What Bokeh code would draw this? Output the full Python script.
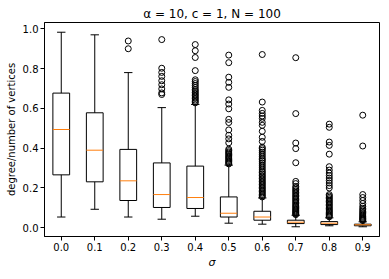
from bokeh.plotting import figure
from bokeh.models import ColumnDataSource, FactorRange, Range1d, FixedTicker, PrintfTickFormatter
from bokeh.transform import dodge
from bokeh.embed import file_html
from bokeh.resources import INLINE

# ---- data ----
sigma = ["0.0", "0.1", "0.2", "0.3", "0.4", "0.5", "0.6", "0.7", "0.8", "0.9"]
whislo = [0.054, 0.093, 0.054, 0.043, 0.058, 0.023, 0.018, 0.005, 0.010, 0.005]
q1 = [0.266, 0.231, 0.137, 0.102, 0.097, 0.054, 0.038, 0.021, 0.016, 0.010]
med = [0.494, 0.390, 0.236, 0.167, 0.152, 0.073, 0.054, 0.028, 0.023, 0.015]
q3 = [0.677, 0.578, 0.394, 0.326, 0.310, 0.155, 0.083, 0.038, 0.031, 0.018]
whishi = [0.983, 0.970, 0.780, 0.604, 0.620, 0.315, 0.150, 0.063, 0.050, 0.030]

fl_00 = []
fl_01 = []
fl_02 = [0.939, 0.900]
fl_03 = [0.946, 0.802, 0.781, 0.761, 0.739, 0.719, 0.698, 0.678, 0.670]
fl_04 = [0.921, 0.890, 0.856, 0.790, 0.744, 0.735, 0.725, 0.715, 0.705, 0.695,
         0.688, 0.680, 0.672, 0.665, 0.657, 0.650, 0.642, 0.635, 0.628]
fl_05 = [0.868, 0.830, 0.757, 0.731, 0.706, 0.643, 0.622, 0.598, 0.545, 0.529,
         0.492, 0.465, 0.447, 0.427, 0.395, 0.388, 0.381, 0.375, 0.369, 0.362,
         0.356, 0.350, 0.344, 0.338, 0.332, 0.326, 0.321]
fl_06 = [0.871, 0.632, 0.590, 0.575, 0.562, 0.550, 0.530, 0.515, 0.485, 0.455,
         0.434, 0.405, 0.398, 0.390, 0.380, 0.370, 0.360, 0.350, 0.342, 0.335,
         0.325, 0.315, 0.305, 0.295, 0.285, 0.278, 0.270, 0.262, 0.255, 0.247,
         0.240, 0.232, 0.225, 0.218, 0.210, 0.203, 0.196, 0.189, 0.182, 0.175,
         0.168, 0.161, 0.155]
fl_07 = [0.855, 0.574, 0.426, 0.398, 0.327, 0.233, 0.222, 0.208, 0.200, 0.192,
         0.185, 0.178, 0.170, 0.163, 0.156, 0.149, 0.142, 0.135, 0.128, 0.121,
         0.114, 0.108, 0.102, 0.096, 0.090, 0.085, 0.080, 0.075, 0.070, 0.066]
fl_08 = [0.521, 0.505, 0.431, 0.414, 0.370, 0.307, 0.290, 0.275, 0.262, 0.250,
         0.238, 0.225, 0.212, 0.200, 0.167, 0.160, 0.153, 0.146, 0.139, 0.132,
         0.125, 0.118, 0.111, 0.104, 0.097, 0.090, 0.084, 0.078, 0.072, 0.066,
         0.060, 0.055]
fl_09 = [0.566, 0.411, 0.167, 0.152, 0.137, 0.122, 0.108, 0.098, 0.090, 0.083,
         0.076, 0.070, 0.064, 0.058, 0.053, 0.048, 0.044, 0.040, 0.036]
fliers = [fl_00, fl_01, fl_02, fl_03, fl_04, fl_05, fl_06, fl_07, fl_08, fl_09]

yticks = [0.0, 0.2, 0.4, 0.6, 0.8, 1.0]
title_text = "α = 10, c = 1, N = 100"
xlabel = "σ"
ylabel = "degree/number of vertices"

# ---- build ----
src = ColumnDataSource(dict(sigma=sigma, whislo=whislo, q1=q1, med=med, q3=q3, whishi=whishi))
fx, fy = [], []
for s, fl in zip(sigma, fliers):
    fx += [s] * len(fl)
    fy += fl
fsrc = ColumnDataSource(dict(x=fx, y=fy))

allv = whislo + whishi + fy
lo, hi = min(allv), max(allv)
pad = 0.05 * (hi - lo)

p = figure(width=381, height=271, x_range=FactorRange(*sigma),
           y_range=Range1d(lo - pad, hi + pad),
           output_backend="svg", toolbar_location=None, title=title_text,
           min_border_left=44, min_border_right=2, min_border_top=22, min_border_bottom=0)

xr = p.x_range
p.vbar(x="sigma", width=0.5, bottom="q1", top="q3", source=src,
       fill_color=None, line_color="black", line_width=1)
p.segment(x0="sigma", y0="q3", x1="sigma", y1="whishi", source=src, line_color="black", line_width=1)
p.segment(x0="sigma", y0="q1", x1="sigma", y1="whislo", source=src, line_color="black", line_width=1)
p.segment(x0=dodge("sigma", -0.125, range=xr), y0="whishi", x1=dodge("sigma", 0.125, range=xr), y1="whishi",
          source=src, line_color="black", line_width=1)
p.segment(x0=dodge("sigma", -0.125, range=xr), y0="whislo", x1=dodge("sigma", 0.125, range=xr), y1="whislo",
          source=src, line_color="black", line_width=1)
p.segment(x0=dodge("sigma", -0.25, range=xr), y0="med", x1=dodge("sigma", 0.25, range=xr), y1="med",
          source=src, line_color="#ff7f0e", line_width=1)
p.scatter(x="x", y="y", source=fsrc, marker="circle", size=6,
          fill_color=None, line_color="black", line_width=1)

p.xgrid.visible = False
p.ygrid.visible = False
p.outline_line_color = "black"
p.outline_line_alpha = 1
p.outline_line_width = 1

p.yaxis.ticker = FixedTicker(ticks=yticks)
p.yaxis.formatter = PrintfTickFormatter(format="%.1f")
p.yaxis.minor_tick_line_color = None

for ax in (p.xaxis[0], p.yaxis[0]):
    ax.axis_line_color = "black"
    ax.major_tick_line_color = "black"
    ax.major_tick_in = 0
    ax.major_tick_out = 4
    ax.major_label_standoff = 2
    ax.axis_label_standoff = 3
    ax.major_label_text_font = "DejaVu Sans"
    ax.major_label_text_font_size = "10px"
    ax.major_label_text_color = "black"
    ax.axis_label_text_font = "DejaVu Sans"
    ax.axis_label_text_font_size = "10px"
    ax.axis_label_text_color = "black"
    ax.axis_label_text_font_style = "normal"

p.xaxis.axis_label = xlabel
p.xaxis.axis_label_text_font_style = "italic"
p.xaxis.axis_label_text_font_size = "11px"
p.xaxis.axis_label_standoff = 2
p.xaxis.group_text_font_size = "0px"
p.yaxis.axis_label = ylabel

p.title.align = "center"
p.title.text_font = "DejaVu Sans"
p.title.text_font_size = "12px"
p.title.text_font_style = "normal"
p.title.text_color = "black"
p.title.standoff = 4

open("out.html", "w").write(file_html(p, INLINE))
